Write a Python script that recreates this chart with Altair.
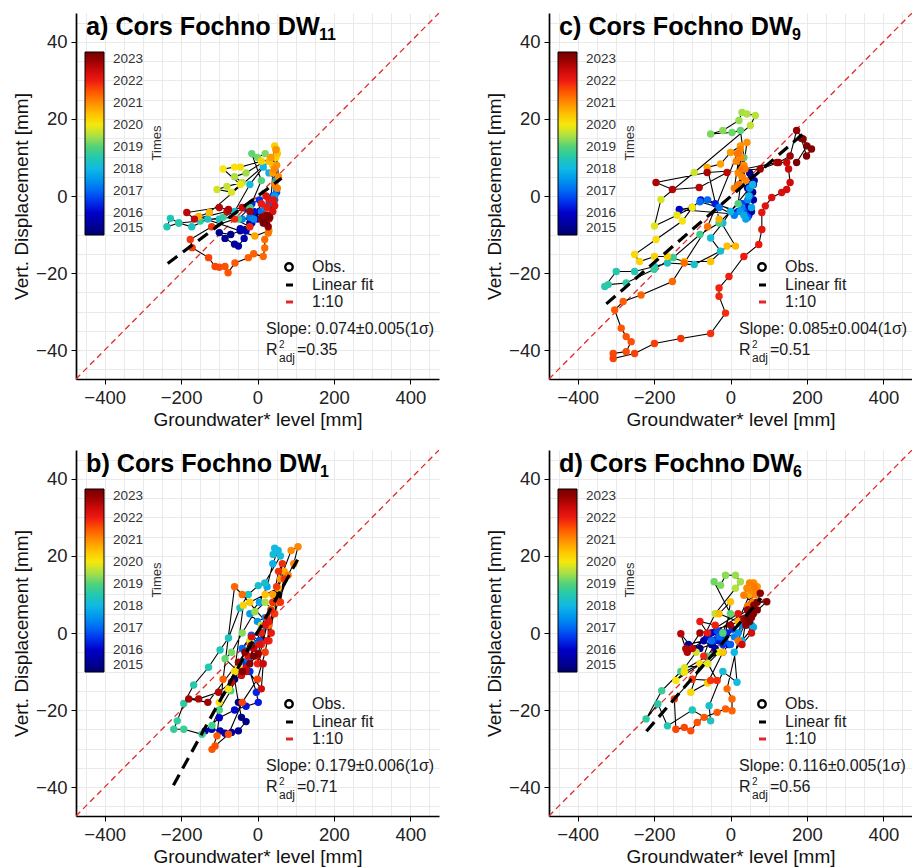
import altair as alt
import pandas as pd

FONT = "Liberation Sans"
W, H = 363, 366
X_DOMAIN = [-475, 475]
Y_DOMAIN = [-47.5, 47.5]
X_TICKS = list(range(-450, 451, 50))
Y_TICKS = list(range(-45, 46, 5))
YEARS = [2015, 2016, 2017, 2018, 2019, 2020, 2021, 2022, 2023]

# colour bar (jet-like) stops
CB_STOPS = [2015, 2015.5, 2016, 2016.5, 2017, 2017.5, 2018, 2018.5, 2019, 2019.5,
            2020, 2020.5, 2021, 2021.5, 2022, 2022.5, 2023, 2023.3]
CB_COLORS = ["#000070", "#00009C", "#0000C8", "#0030EC", "#0068F4", "#0096EE", "#10B8E6",
             "#22C8B0", "#52D27A", "#ABE044", "#F6E80C", "#FFC000", "#FF8C00", "#FF5500",
             "#EE1A10", "#C80808", "#900000", "#780000"]

# 1:10 reference line
REF_X = [-475, 475]
REF_Y = [-47.5, 47.5]

# ---------------- a) Cors Fochno DW11 ----------------
a_t = [2015.00, 2015.08, 2015.17, 2015.25, 2015.33, 2015.42, 2015.50, 2015.58, 2015.67, 2015.75, 2015.83, 2015.92,
       2016.00, 2016.10, 2016.20, 2016.30, 2016.40, 2016.50, 2016.60, 2016.70, 2016.80, 2016.90,
       2017.00, 2017.10, 2017.20, 2017.30, 2017.40, 2017.50, 2017.60, 2017.70, 2017.80, 2017.90,
       2018.00, 2018.10, 2018.20, 2018.25, 2018.30, 2018.35, 2018.40, 2018.45, 2018.50, 2018.55, 2018.60, 2018.70, 2018.80, 2018.90,
       2019.00, 2019.08, 2019.17, 2019.25, 2019.33, 2019.42, 2019.50, 2019.58, 2019.67, 2019.75, 2019.83, 2019.92,
       2020.00, 2020.08, 2020.17, 2020.25, 2020.30, 2020.33, 2020.36, 2020.42, 2020.46, 2020.50, 2020.58, 2020.67, 2020.75, 2020.79,
       2020.83, 2020.87, 2020.92, 2020.96, 2021.00, 2021.04, 2021.08, 2021.12, 2021.17,
       2021.22, 2021.26, 2021.30, 2021.34, 2021.38, 2021.42, 2021.46,
       2021.50, 2021.54, 2021.58, 2021.62, 2021.66, 2021.70, 2021.74, 2021.80, 2021.86, 2021.92,
       2022.00, 2022.04, 2022.08, 2022.12, 2022.17, 2022.21, 2022.25, 2022.29, 2022.33, 2022.42, 2022.50,
       2022.55, 2022.60, 2022.67, 2022.75, 2022.83, 2022.92, 2022.96, 2023.00, 2023.05, 2023.10, 2023.15, 2023.20, 2023.25, 2023.30]
a_x = [5, -20, -45, -70, -100, -85, -60, -50, -35, -30, -45, -15,
       0, 15, -10, -30, -15, 5, 20, 40, 50, 45,
       30, 10, -20, -40, -10, 20, 45, 50, 48, 30,
       15, -20, -60, -100, -130, -172, -206, -228, -237, -206, -150, -90, -50, -20,
       10, -15, 0, 20, 35, -30, -60, -40, -80, -106, -68, -45,
       -90, -60, -45, 10, 48, 45, 40, 50, 52, 30, -126, -154, -7, 30,
       40, 35, 50, 48, 55, 44, 45, 52, 30,
       28, 19, 19, 15, -10, -24, -59,
       -77, -85, -100, -111, -128, -171, -176, -120, -60, -20,
       10, 25, 30, 42, 45, 22, 40, 30, 20, -40, -80,
       -165, -185, -100, -76, -20, 10, 20, 18, 28, 25, 12, 32, 20, 15]
a_y = [-4, -7, -9, -10, -9.5, -11, -12.5, -13, -11, -9, -8.5, -7,
       -6, -5, -4, -3, -2, -1, -3, 0, 1, -1,
       -2, -4, -5.5, -6, -6, -3, 0, 2, 4, 6,
       7.5, 3, -4, -6, -6, -8, -7, -5.8, -8, -7, -6.5, -5.5, -6, -3,
       4, 11, 10, 11, 10, 6, 5, 3.5, 2.5, 1.7, 1, 3,
       7, 7.5, 7.5, 9, 10, 13, 8, 12, 11, 9, -4.3, -5.3, -10.4, -9,
       6, 10, 8, 12, 5, 7, 3, 2, -5,
       -9.6, -11.3, -13.5, -15.7, -15, -16, -17.4,
       -19.9, -18.3, -18.5, -18.3, -16, -13.4, -11.3, -8, -6, -8,
       -2, -3, -1, -1, -2.5, 0, -4, -6, -5, -3, -4,
       -6, -4.3, -3, -3.5, -4, -6, -7, -6.5, -8, -5, -5.5, -5.6, -7, -7]
a_fit_x = [-235, 63]
a_fit_y = [-17.5, 4.6]

# ---------------- c) Cors Fochno DW9 ----------------
c_t = [2015.00, 2015.08, 2015.17, 2015.25, 2015.33, 2015.42, 2015.50, 2015.58, 2015.67, 2015.75, 2015.83, 2015.92,
       2016.00, 2016.10, 2016.20, 2016.30, 2016.40, 2016.50, 2016.60, 2016.70, 2016.80, 2016.90,
       2017.00, 2017.08, 2017.16, 2017.24, 2017.32, 2017.40, 2017.48, 2017.56, 2017.64, 2017.72, 2017.80, 2017.88, 2017.94,
       2018.00, 2018.08, 2018.15, 2018.22, 2018.28, 2018.34, 2018.40, 2018.46, 2018.50, 2018.54, 2018.58, 2018.62, 2018.68, 2018.75, 2018.82, 2018.90, 2018.96,
       2019.00, 2019.08, 2019.15, 2019.22, 2019.30, 2019.38, 2019.45, 2019.52, 2019.58, 2019.65, 2019.72, 2019.78, 2019.85, 2019.92,
       2020.00, 2020.06, 2020.12, 2020.18, 2020.24, 2020.30, 2020.36, 2020.42, 2020.48, 2020.54, 2020.60, 2020.66, 2020.72, 2020.78, 2020.84, 2020.90, 2020.95,
       2021.00, 2021.02, 2021.04, 2021.06, 2021.08, 2021.10, 2021.12, 2021.14, 2021.16, 2021.18, 2021.20, 2021.22,
       2021.25, 2021.30, 2021.34, 2021.38, 2021.42, 2021.46, 2021.50, 2021.53,
       2021.56, 2021.59, 2021.62, 2021.65, 2021.68, 2021.72, 2021.76, 2021.80, 2021.84, 2021.88, 2021.92, 2021.96,
       2022.00, 2022.05, 2022.10, 2022.15, 2022.20, 2022.25, 2022.30, 2022.35, 2022.40, 2022.45, 2022.50, 2022.55,
       2022.60, 2022.65, 2022.70, 2022.75, 2022.80, 2022.85, 2022.90, 2022.95, 2023.00, 2023.05, 2023.10, 2023.15, 2023.20, 2023.25, 2023.30]
c_x = [55, 60, 50, 58, 45, 40, 55, 60, 50, 62, 45, 48,
       -134, -100, -78, -40, 20, 40, 30, 50, 35, 45,
       -60, -80, -30, 10, 30, 45, 50, 25, 40, 55, 35, 48, 58,
       0, -20, -52, -26, -95, -165, -199, -251, -299, -329, -320, -273, -200, -150, -80, -30, 20,
       35, 26, 4, -52, -20, 22, 30, 43, 65, 52, -95, -182, -199, -140,
       -100, -126, -195, -251, -238, -199, -165, -121, -52, -9, 13, -30, -61, -26, 0, 26, 43,
       35, 20, 28, 40, 15, 30, 10, 25, 38, 22, 30, 18,
       -60, -121, -152, -234, -281, -303, -286, -273,
       -260, -273, -307, -307, -251, -199, -130, -52, -13, -30, -30, -4,
       35, 74, 82, 82, 91, 108, 134, 147, 156, 152, 147, 121,
       -9, -82, -152, -195, -61, 78, 126, 156, 173, 190, 212, 199, 185, 200, 173]
c_y = [5, 3, 6, 1, 2, -2, -4, -1, 3, 4, -3, -5,
       -3.5, -3, -1, -2, -4, -5, -2, 0, -4, -5.5,
       -1, -1.5, -3, -5, -3, -1, 2, -4, -6, -3, -5, 0, 3,
       -4, -7, -10.9, -14.3, -17.8, -17.4, -18.3, -19.6, -19.6, -23.5, -23, -22.6, -19, -16, -10, -7, -2,
       10, 17, 16.5, 16.1, 17, 19.6, 21.7, 21.3, 20.9, 18.3, 6.1, -0.9, -7.8, -5,
       -3, -6.5, -11.3, -15.2, -17, -15.7, -15.7, -17, -17, -13, -13, -6, 7.4, 8.3, 11.3, 13, 13.9,
       8, 6, 10, 4, 9, 5, 2, 12, 7, 3, 7, 11,
       -8, -17.4, -22.2, -25.7, -27.4, -29.6, -34.3, -36.5,
       -37.8, -40.4, -40.9, -42.2, -40.9, -38.3, -37, -35.7, -30.4, -26, -23.9, -20.9,
       -15.7, -12.6, -8.7, -4.3, -2.6, -0.4, 0.9, 1.7, 3.5, 7, 8.7, 8.7,
       6.1, 2.2, 1.7, 3.5, 6.1, 7, 8.7, 10.4, 17, 14.8, 12.2, 10.4, 15, 13, 8.7]
c_fit_x = [-325, 200]
c_fit_y = [-28, 17]

# ---------------- b) Cors Fochno DW1 ----------------
b_t = [2015.00, 2015.10, 2015.20, 2015.30, 2015.40, 2015.50, 2015.60, 2015.70, 2015.80, 2015.90,
       2016.00, 2016.10, 2016.20, 2016.30, 2016.40, 2016.50, 2016.60, 2016.70, 2016.80, 2016.90,
       2017.00, 2017.10, 2017.20, 2017.30, 2017.40, 2017.50, 2017.60, 2017.70, 2017.80, 2017.90,
       2018.00, 2018.05, 2018.10, 2018.15, 2018.20, 2018.25, 2018.30, 2018.35, 2018.40, 2018.45,
       2018.50, 2018.55, 2018.60, 2018.65, 2018.70, 2018.75, 2018.80, 2018.85, 2018.90, 2018.95,
       2019.00, 2019.10, 2019.20, 2019.30, 2019.40, 2019.50, 2019.60, 2019.70, 2019.80, 2019.90,
       2020.00, 2020.10, 2020.20, 2020.30, 2020.40, 2020.50, 2020.60, 2020.70, 2020.80, 2020.90,
       2021.00, 2021.05, 2021.10, 2021.15, 2021.20, 2021.25, 2021.30, 2021.35, 2021.40, 2021.45,
       2021.50, 2021.55, 2021.60, 2021.65, 2021.70,
       2021.72, 2021.74, 2021.76, 2021.78, 2021.80, 2021.82, 2021.84, 2021.86, 2021.88, 2021.90, 2021.92, 2021.94, 2021.96,
       2022.00, 2022.04, 2022.08, 2022.12, 2022.16, 2022.20, 2022.24, 2022.28, 2022.32, 2022.36, 2022.40, 2022.44, 2022.48, 2022.52, 2022.56,
       2022.62, 2022.68, 2022.74, 2022.80, 2022.86, 2022.92, 2022.98, 2023.04, 2023.10, 2023.16, 2023.22, 2023.30]
b_x = [-60, -50, -42, -30, -50, -68, -85, -98, -120, -137,
       -100, -60, -30, 2, -3, -20, -30, -10, 5, -16,
       -40, -25, -5, 10, 20, 0, -20, 5, 25, 40,
       54, 45, 41, 60, 19, 2, -24, -46, -76, -98,
       -128, -167, -193, -210, -219, -193, -145, -119, -100, -70,
       -50, -85, -68, -40, -7, 20, 36, 10, -20, -50,
       -76, -100, -60, -37, -20, 20, 54, 70, 40, 60,
       88, 106, 95, 80, 55, 30, -40, -60, -90, -106,
       -119, -111, -76, -40, 0,
       20, 50, 45, 70, 60, 40, 55, 65, 30, 25, 10, 35, 0,
       10, 25, 36, 30, 20, 5, -16, -25, -42, -30, 10, 15, 0, -10, -30,
       -68, -102, -154, -180, -130, -50, -33, -16, 2, -20, -40, -10]
b_y = [-12, -18, -21.9, -23, -25.4, -25.8, -26, -25.4, -25, -25.4,
       -22, -20, -19, -18, -15.4, -10, -8, -4, -2, -0.6,
       -4, -7, -3, 1, 4, 3, 5, 8, 12, 18,
       21.4, 22, 20.4, 20, 13, 12.3, 10, 6.5, -1.3, -4.4,
       -8.9, -13.5, -18.3, -22.8, -25, -25, -26.3, -24, -20, -15,
       -10, -6.7, -5, 0, 5.5, 8, 6.3, 2, -2, -9,
       -14.5, -18, -10, 7.2, 8, 10, 11.6, 16, 10, 14,
       21.4, 22.4, 18, 15, 8, 2, 10, 12, -12, -26.7,
       -30.2, -29.3, -26.3, -18, -12,
       -5, 12, 5, 14, 8, 8, 16, 18, -2, 4, -3, 6, -8,
       0, -2, 0, 3, 2, -3, -1, -6, -11, -9, -14.5, -8, -6, -4, -10,
       -12.8, -15.4, -17.1, -17.1, -18, -7.6, -5, -3.2, -5.4, -8, -10, -6]
b_fit_x = [-220, 105]
b_fit_y = [-39.5, 19]

# ---------------- d) Cors Fochno DW6 ----------------
d_t = [2015.00, 2015.10, 2015.20, 2015.30, 2015.40, 2015.50, 2015.60, 2015.70, 2015.80, 2015.90,
       2016.00, 2016.10, 2016.20, 2016.30, 2016.40, 2016.50, 2016.60, 2016.70, 2016.80, 2016.90,
       2017.00, 2017.10, 2017.20, 2017.30, 2017.40, 2017.50, 2017.60, 2017.70, 2017.80, 2017.90,
       2018.00, 2018.08, 2018.16, 2018.24, 2018.32, 2018.40, 2018.48, 2018.56, 2018.64, 2018.72, 2018.80, 2018.90,
       2019.00, 2019.08, 2019.16, 2019.24, 2019.32, 2019.40, 2019.48, 2019.56, 2019.64, 2019.72, 2019.80, 2019.88, 2019.95,
       2020.00, 2020.08, 2020.16, 2020.24, 2020.32, 2020.40, 2020.48, 2020.56, 2020.64, 2020.72, 2020.80, 2020.88,
       2021.00, 2021.02, 2021.04, 2021.06, 2021.08, 2021.10, 2021.12, 2021.14, 2021.16, 2021.18, 2021.20, 2021.25,
       2021.30, 2021.34, 2021.38, 2021.42, 2021.46,
       2021.50, 2021.54, 2021.58, 2021.62, 2021.66, 2021.70, 2021.75, 2021.80, 2021.85, 2021.90, 2021.95,
       2022.00, 2022.08, 2022.16, 2022.24, 2022.32, 2022.40, 2022.48, 2022.56,
       2022.62, 2022.68, 2022.74, 2022.80, 2022.86, 2022.92, 2022.95, 2022.98, 2023.01, 2023.04, 2023.07, 2023.10, 2023.13, 2023.16, 2023.19, 2023.22, 2023.26, 2023.30]
d_x = [-20, -50, -80, -95, -110, -70, -40, -20, -5, -30,
       -50, -60, -30, -10, 5, -20, -45, -35, -15, 0,
       -30, -50, -20, 10, 30, 20, 40, 55, 60, 30,
       10, 17, -20, -56, -52, -100, -165, -190, -221, -180, -130, -60,
       -20, 0, -43, -26, -13, 13, 26, 13, -40, -90, -120, -60, -30,
       -143, -121, -80, -104, -60, -20, 0, -30, 20, 50, 60, 70,
       61, 55, 43, 65, 69, 50, 35, 58, 45, 62, 50, 20,
       -9, 4, 4, -13, -35,
       -69, -87, -104, -121, -143, -147, -100, -52, -35, -70, -40,
       -80, -60, 20, 40, 55, 30, 45, -100,
       -130, -117, -113, -80, 0, 35, 45, 50, 40, 61, 55, 78, 70, 95, 60, 70, 50, 45]
d_y = [-2, -3, -4, -4.1, -3, -2, -4, -5, -3, -1,
       0, -1, -2, 0, 1, -3, -2, 0.5, -2, -3,
       -1, -2, 0, -1, 2, 0, 4, 2, 1.5, -2,
       -5, -12.8, -10, -18.9, -22.8, -20, -24.1, -18.4, -22.3, -15, -10, -6,
       0, 5, 13.3, 12.4, 15, 15, 13.3, 11.6, 5, -5, -9, -8, -5,
       -12.3, -10.2, -8, -15.4, -13, -5, 8.1, 5, 3, 10, 13, 12,
       12.9, 11, 11.6, 10, 10.7, 13, 9.8, 8, 7, 12, 6, -2,
       -14.5, -17.1, -20.2, -19.7, -20.6,
       -21.9, -23.2, -25.4, -24.5, -25, -17.1, -12, -12.3, -12.3, -6, 2,
       3, 0, 5, 3, 0, -3, 6, -4,
       -0.2, -4.1, -5, 0, 2, 3.7, 6, 5, 2, 7.2, 4, 10.3, 8, 8.1, 5, 6, 3, 4]
d_fit_x = [-220, 80]
d_fit_y = [-25.5, 9]

one = pd.DataFrame({"k": [0]})

XS = alt.Scale(domain=X_DOMAIN, nice=False, zero=False)
YS = alt.Scale(domain=Y_DOMAIN, nice=False, zero=False)
CS = alt.Scale(domain=CB_STOPS, range=CB_COLORS, interpolate="rgb")

AX_COMMON = dict(
    grid=True, gridColor="#E8E8E8", gridWidth=0.9,
    domainColor="black", domainWidth=1.7,
    tickColor="black", tickSize=5, tickWidth=1,
    labelFont=FONT, labelFontSize=18.5, labelColor="#222222", labelPadding=4,
    labelFlush=False, labelOverlap=False,
    titleFont=FONT, titleFontSize=19, titleFontWeight="normal", titleColor="#111111",
    titlePadding=4, format="d",
)
XAX = alt.Axis(values=X_TICKS, title="Groundwater* level [mm]",
               labelExpr="datum.value % 200 === 0 ? datum.label : ''",
               tickOpacity={"condition": {"test": "datum.value % 200 === 0", "value": 1}, "value": 0},
               **AX_COMMON)
YAX = alt.Axis(values=Y_TICKS, title="Vert. Displacement [mm]",
               labelExpr="datum.value % 20 === 0 ? datum.label : ''",
               tickOpacity={"condition": {"test": "datum.value % 20 === 0", "value": 1}, "value": 0},
               **AX_COMMON)

LEG = alt.Legend(orient="none", legendX=9, legendY=39, direction="vertical",
                 gradientLength=183, gradientThickness=19, title=None,
                 values=YEARS, format="d", labelOverlap=False,
                 labelFont=FONT, labelFontSize=13.5, labelColor="#333333", labelOffset=9,
                 gradientStrokeColor="black", gradientStrokeWidth=1, padding=0)


def txt(s, x, y, size, weight="normal", color="#1a1a1a", angle=0, align="left", baseline="middle"):
    return alt.Chart(one).mark_text(
        text=s, font=FONT, fontSize=size, fontWeight=weight, color=color,
        angle=angle, align=align, baseline=baseline
    ).encode(x=alt.value(x), y=alt.value(y))


def panel(label, sub, sub_x, t, x, y, fx, fy, slope, r2):
    df = pd.DataFrame({"t": t, "gw": x, "disp": y})
    ref = pd.DataFrame({"gw": REF_X, "disp": REF_Y})
    fit = pd.DataFrame({"gw": fx, "disp": fy})
    xe = alt.X("gw:Q", scale=XS, axis=XAX)
    ye = alt.Y("disp:Q", scale=YS, axis=YAX)

    ref_l = alt.Chart(ref).mark_line(color="#E0282B", strokeWidth=1.3, strokeDash=[6, 4], clip=True).encode(x=xe, y=ye)
    path = alt.Chart(df).mark_line(color="black", strokeWidth=1.1).encode(x=xe, y=ye, order="t:Q")
    pts = alt.Chart(df).mark_circle(size=55, opacity=1).encode(
        x=xe, y=ye, color=alt.Color("t:Q", scale=CS, legend=LEG))
    fitl = alt.Chart(fit).mark_line(color="black", strokeWidth=3.2, strokeDash=[12, 7]).encode(x=xe, y=ye)

    obs_sym = alt.Chart(one).mark_point(shape="circle", filled=False, size=55, strokeWidth=2.4,
                                        color="black", opacity=1).encode(x=alt.value(213), y=alt.value(254))
    fit_sym = alt.Chart(one).mark_rule(color="black", strokeWidth=3).encode(
        x=alt.value(210), x2=alt.value(217), y=alt.value(272))
    ref_sym = alt.Chart(one).mark_rule(color="#E0282B", strokeWidth=3).encode(
        x=alt.value(210), x2=alt.value(217), y=alt.value(289))

    layers = [
        ref_l, path, pts, fitl,
        obs_sym, fit_sym, ref_sym,
        txt("Obs.", 236, 254, 16),
        txt("Linear fit", 236, 272, 16),
        txt("1:10", 236, 289, 16),
        txt(slope, 190, 316, 16),
        txt("R", 190, 337, 16),
        txt("2", 203, 331.5, 10),
        txt("adj", 203, 345, 12),
        txt("=" + r2, 221, 337, 16),
        txt(label, 10, 21.5, 25.2, weight="bold", color="black", baseline="alphabetic"),
        txt(sub, sub_x, 26.5, 16, weight="bold", color="black", baseline="alphabetic"),
        txt("Times", 81, 130, 13, color="#333333", angle=270, align="center"),
    ]
    return alt.layer(*layers).properties(width=W, height=H)


pa = panel("a) Cors Fochno DW", "11", 243, a_t, a_x, a_y, a_fit_x, a_fit_y,
           "Slope: 0.074\u00b10.005(1\u03c3)", "0.35")
pc = panel("c) Cors Fochno DW", "9", 243, c_t, c_x, c_y, c_fit_x, c_fit_y,
           "Slope: 0.085\u00b10.004(1\u03c3)", "0.51")
pb = panel("b) Cors Fochno DW", "1", 244, b_t, b_x, b_y, b_fit_x, b_fit_y,
           "Slope: 0.179\u00b10.006(1\u03c3)", "0.71")
pd_ = panel("d) Cors Fochno DW", "6", 244, d_t, d_x, d_y, d_fit_x, d_fit_y,
            "Slope: 0.116\u00b10.005(1\u03c3)", "0.56")

top = alt.hconcat(pa, pc, spacing=46).resolve_scale(color="independent")
bot = alt.hconcat(pb, pd_, spacing=46).resolve_scale(color="independent")

chart = alt.vconcat(top, bot, spacing=20).resolve_scale(color="independent").properties(
    padding={"left": 12, "top": 13, "right": 0, "bottom": 0},
    background="white",
).configure_view(stroke=None)

chart.save("out.html", embed_options={"renderer": "svg", "actions": False})
